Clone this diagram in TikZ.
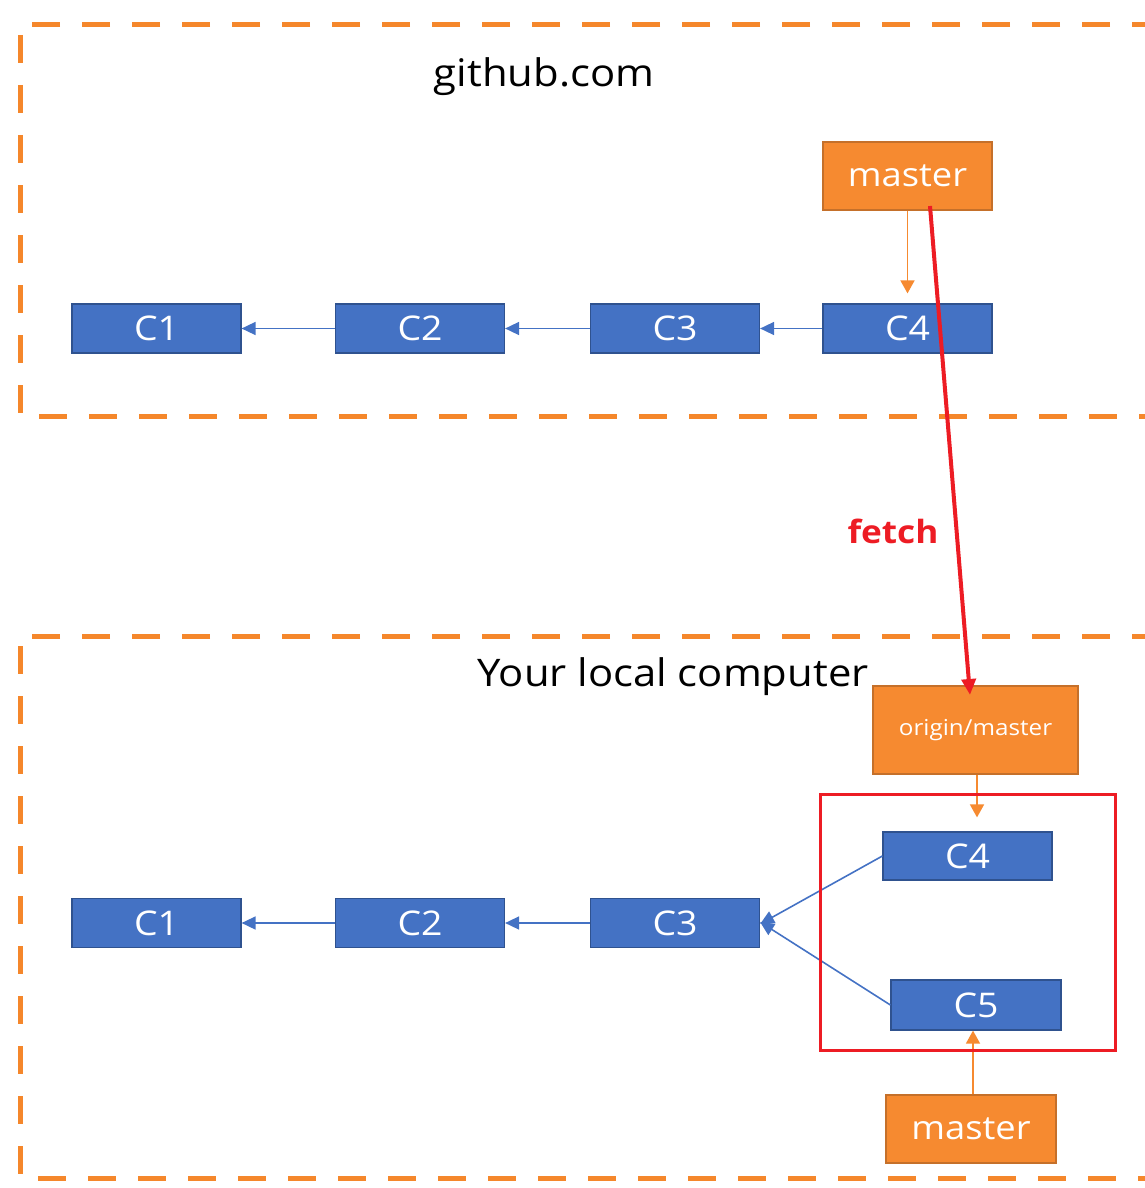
\documentclass[tikz,border=0pt]{standalone}
\usepackage{fontspec}
\setmainfont{Open Sans}[FakeStretch=1.1]
\usetikzlibrary{arrows.meta}
\definecolor{cblue}{HTML}{4472C4}
\definecolor{cblueb}{HTML}{2F528F}
\definecolor{corange}{HTML}{F68A30}
\definecolor{coranged}{HTML}{C5702A}
\definecolor{cdash}{HTML}{F5872B}
\definecolor{cred}{HTML}{ED1C24}
\tikzset{
  commit/.style={fill=cblue, draw=cblueb, line width=1.2pt, minimum width=169pt, minimum height=49pt, inner sep=0pt, text=white, font=\fontsize{34}{38}\selectfont},
  branch/.style={fill=corange, draw=coranged, line width=1.2pt, minimum width=169pt, minimum height=68pt, inner sep=0pt, text=white, font=\fontsize{33}{37}\selectfont},
  parent/.style={draw=cblue, line width=1.6pt, -{Triangle[length=14pt,width=13pt]}},
  pointer/.style={draw=corange, line width=1.6pt, -{Triangle[length=13pt,width=14pt]}},
  area/.style={draw=cdash, line width=5pt, dash pattern=on 28pt off 22pt},
  title/.style={font=\fontsize{38}{42}\selectfont, text=black, inner sep=0pt},
}
\begin{document}
\begin{tikzpicture}[x=1pt,y=-1pt]
\useasboundingbox (0,0) rectangle (1145,1188);
\clip (0,0) rectangle (1145,1188);
% areas
\draw[area] (1160,25) -- (20,25) -- (20,416) -- (1160,416);
\draw[area] (1160,636) -- (20,636) -- (20,1178) -- (1160,1178);
\node[title] (gh) at (544,77) {github.com};
\node[title] (lc) at (673,677) {Your local computer};
% top row
\node[commit] (t1) at (156.5,328.5) {C1};
\node[commit] (t2) at (420,328.5) {C2};
\node[commit] (t3) at (675,328.5) {C3};
\node[commit] (t4) at (907.5,328.5) {C4};
\node[branch] (tm) at (907.5,176) {master};
\draw[parent] (t2.west) -- (t1.east);
\draw[parent] (t3.west) -- (t2.east);
\draw[parent] (t4.west) -- (t3.east);
\draw[pointer, shorten >=10pt] (tm.south) -- (t4.north);
% bottom row
\node[commit] (b1) at (156.5,923) {C1};
\node[commit] (b2) at (420,923) {C2};
\node[commit] (b3) at (675,923) {C3};
\node[commit, minimum height=48pt] (b4) at (967.5,856) {C4};
\node[commit, minimum width=170pt, minimum height=50pt] (b5) at (976,1005) {C5};
\node[branch, minimum width=205pt, minimum height=88pt, font=\fontsize{22}{25}\selectfont] (om) at (975.5,730) {origin/master};
\node[branch, minimum width=170pt] (bm) at (971,1129) {master};
\draw[parent] (b2.west) -- (b1.east);
\draw[parent] (b3.west) -- (b2.east);
\draw[parent] (b4.west) -- ([yshift=-1pt]b3.east);
\draw[parent] (b5.west) -- ([yshift=1pt]b3.east);
\draw[pointer, shorten >=14pt] ([xshift=1.5pt]om.south) -- ([xshift=9.5pt]b4.north);
\draw[pointer] ([xshift=2pt]bm.north) -- ([xshift=-3pt]b5.south);
% group
\draw[cred, line width=3pt] (820,794) rectangle (1115,1050);
% fetch
\coordinate (fs) at (930,206);
\coordinate (fe) at (970,695);
\draw[cred, line width=4pt, -{Triangle[length=16pt,width=14pt]}] (fs) -- (fe);
\node[text=cred, font=\bfseries\fontsize{32}{36}\selectfont, inner sep=0pt] (fl) at (893,531) {fetch};
\end{tikzpicture}
\end{document}
